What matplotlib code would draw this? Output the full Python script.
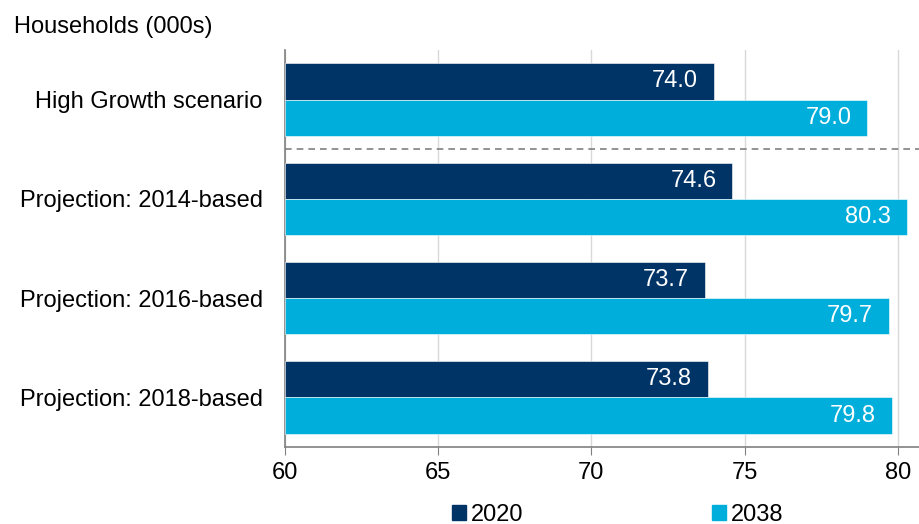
import numpy as np
import matplotlib.pyplot as plt
from matplotlib.patches import Patch

plt.rcParams['font.family'] = ['Liberation Sans', 'DejaVu Sans']

categories = ['High Growth scenario', 'Projection: 2014-based',
              'Projection: 2016-based', 'Projection: 2018-based']
hh_2020 = [74.0, 74.6, 73.7, 73.8]
hh_2038 = [79.0, 80.3, 79.7, 79.8]
series_labels = ['2020', '2038']
x_ticks = [60, 65, 70, 75, 80]

dark = '#003366'
light = '#00AEDB'
fs = 17

fig = plt.figure(figsize=(9.19, 5.24), dpi=100)
ax = fig.add_axes([0.3101, 0.1469, 0.6899, 0.7577])

y = np.arange(len(categories))
h = 0.365
off = 0.183

b1 = ax.barh(y - off, [v - 60 for v in hh_2020], left=60, height=h,
             color=dark, edgecolor='white', linewidth=0.4, zorder=3)
b2 = ax.barh(y + off, [v - 60 for v in hh_2038], left=60, height=h,
             color=light, edgecolor='white', linewidth=0.4, zorder=3)

for bars, vals in ((b1, hh_2020), (b2, hh_2038)):
    for bar, v in zip(bars, vals):
        ax.text(v - 0.52, bar.get_y() + bar.get_height() / 2, f'{v:.1f}',
                ha='right', va='center', color='white', fontsize=fs, zorder=4)

# separator between the scenario and the official projections
ax.axhline(0.5, color='#808080', linestyle=(0, (4, 3)), linewidth=1.2, zorder=2)

ax.set_xlim(60, 80.69)
ax.set_ylim(3.5, -0.5)
ax.set_xticks(x_ticks)
ax.set_xticklabels([str(t) for t in x_ticks], fontsize=fs)
ax.set_yticks(y)
ax.set_yticklabels(categories, fontsize=fs)
ax.tick_params(axis='y', length=0, pad=16)
ax.tick_params(axis='x', length=6, color='#808080', pad=5)

ax.grid(axis='x', color='#d9d9d9', linewidth=1, zorder=0)
for s in ('top', 'right'):
    ax.spines[s].set_visible(False)
for s in ('left', 'bottom'):
    ax.spines[s].set_color('#808080')
    ax.spines[s].set_linewidth(1.2)

fig.text(0.015, 0.948, 'Households (000s)', fontsize=fs, ha='left', va='center')

handles = [Patch(color=dark), Patch(color=light)]
fig.legend(handles, series_labels, loc='center', bbox_to_anchor=(0.672, 0.018),
           ncol=2, frameon=False, fontsize=fs, handlelength=0.6,
           handleheight=0.6, handletextpad=0.2, columnspacing=8,
           borderpad=0, borderaxespad=0)

fig.savefig('out.png', dpi=100)
